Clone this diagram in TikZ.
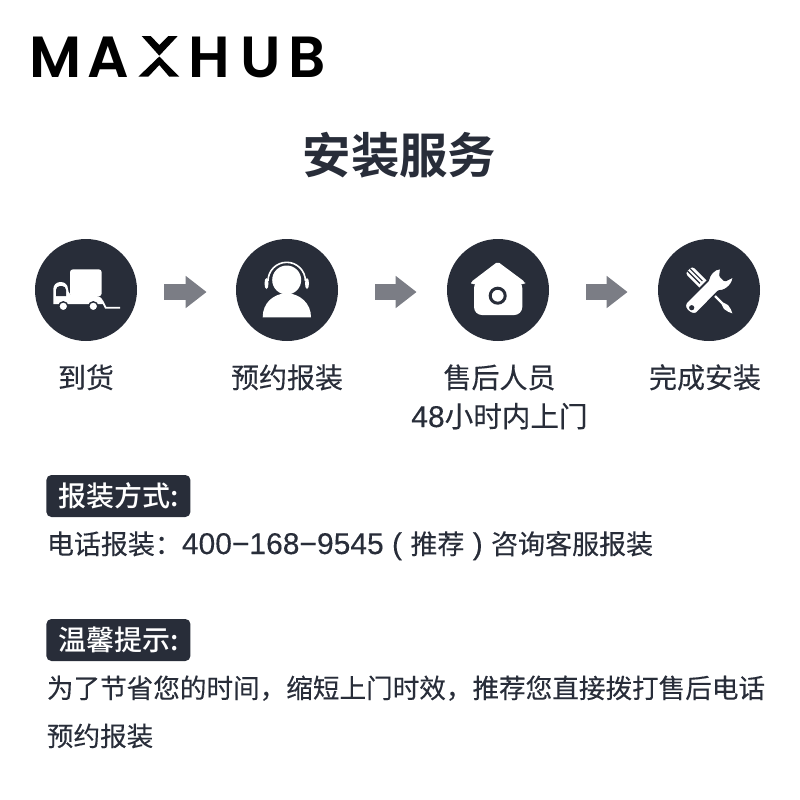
\documentclass[tikz,border=0pt]{standalone}
\usepackage{fontspec}
\setmainfont[FakeBold=0.25]{Noto Sans CJK SC}
\newfontfamily\titlefont{Noto Sans CJK SC Bold}
\newfontfamily\latnfont[FakeBold=0.25]{Liberation Sans}
\newfontfamily\logofont{Poppins SemiBold}
\newfontfamily\tagfont{Noto Sans CJK SC Medium}
\usetikzlibrary{arrows.meta}
\definecolor{inkdark}{HTML}{282D39}
\definecolor{flowgray}{HTML}{7B7D85}
\tikzset{
    iconcircle/.style={circle,fill=inkdark,minimum size=51pt,inner sep=0pt},
    steplabel/.style={anchor=base,text=inkdark,font=\fontsize{14}{14}\selectfont,inner sep=0pt},
    flowarrow/.style={draw=flowgray,line width=8pt,-{Triangle[length=10.5pt,width=15.5pt,fill=flowgray]},shorten <=18.5pt,shorten >=15pt},
    tagbox/.style={anchor=west,fill=inkdark,rounded corners=2.5pt,text=white,minimum width=72pt,minimum height=21pt,inner sep=0pt,font=\fontsize{14}{14}\tagfont},
    bodyline/.style={anchor=base west,text=inkdark,font=\fontsize{13.3}{13.3}\selectfont,inner sep=0pt},
}
\newcommand{\latn}[1]{{\latnfont\fontsize{15}{15}\selectfont #1}}
\newcommand{\logoslot}[2]{\makebox[#1pt][l]{#2}}
\begin{document}
\begin{tikzpicture}[x=0.5pt,y=-0.5pt]
    \useasboundingbox (0,0) rectangle (800,800);

    % logo
    \node[anchor=base west,inner sep=0pt,font=\fontsize{29}{29}\logofont] (logo) at (29,77) {\logoslot{29}{M}\logoslot{30}{A}\logoslot{20.5}{\textcolor{white}{X}}\logoslot{26}{H}\logoslot{24}{U}\logoslot{20}{B}};
    \fill (141.7,36) -- (150.7,36) -- (159.3,45) -- (168.3,36) -- (177.7,36) -- (159.3,55.7) -- cycle;
    \fill (138.3,76.7) -- (148.3,76.7) -- (159.3,65) -- (169.3,76.7) -- (179.3,76.7) -- (159.3,56.5) -- cycle;

    % title
    \node[anchor=base,inner sep=0pt,text=inkdark,font=\fontsize{24.2}{24.2}\titlefont] (title) at (399.5,173) {安装服务};

    % steps
    \node[iconcircle] (truck) at (86,290) {};
    \node[iconcircle] (agent) at (287,290) {};
    \node[iconcircle] (house) at (498,290) {};
    \node[iconcircle] (tools) at (709,290) {};

    \draw[flowarrow,shorten <=13.5pt,shorten >=14.5pt] ([yshift=-1pt]truck.east) -- ([yshift=-1pt]agent.west);
    \draw[flowarrow] ([yshift=-1pt]agent.east) -- ([yshift=-1pt]house.west);
    \draw[flowarrow] ([yshift=-1pt]house.east) -- ([yshift=-1pt]tools.west);

    % truck icon
    \fill[white,rounded corners=1.5pt] (70,269.3) rectangle (101.7,296.3);
    \fill[white,rounded corners=3.5pt] (53.3,304) -- (53.3,282) -- (68,282) -- (68,296) -- (103.3,296) [sharp corners] -- (103.3,304) -- cycle;
    \fill[inkdark,rounded corners=2pt] (56,296) -- (56,286) -- (66,286) [sharp corners] -- (66,296) -- cycle;
    \fill[white,draw=inkdark,line width=0.7pt] (63.3,306.3) circle (4.5);
    \fill[white,draw=inkdark,line width=0.7pt] (93.3,306.3) circle (4.5);
    \draw[white,line width=0.9pt] (102.3,301) -- (105.7,307.7) -- (120,307.7);

    % agent icon
    \fill[white] (286.7,280) circle (14.5);
    \fill[white] (262.7,317.3) .. controls (262.7,303) and (273,294) .. (286.7,293) .. controls (300,294) and (311,303) .. (311,317.3) -- cycle;
    \draw[white,line width=0.8pt] (268,281) arc[start angle=180,end angle=360,radius=18.7];
    \fill[white] (266.5,283.5) ellipse (2 and 5.5);
    \fill[white] (307,283.5) ellipse (2 and 5.5);

    % house icon
    \fill[white,rounded corners=1pt] (497.7,261.7) -- (525,282) -- (525,284) -- (471,284) -- (471,282) -- cycle;
    \fill[white,rounded corners=4pt] (474,280) rectangle (522.3,315);
    \fill[white,draw=inkdark,line width=1.5pt] (497.7,295.7) circle (7.5);

    % tools icon
    \begin{scope}[shift={(709,290)},rotate=-45]
        \fill[white,rounded corners=1.5pt] (-28.6,-5) rectangle (0,5);
        \draw[inkdark,line width=0.6pt] (-28.6,-1.7) -- (-11,-1.7) (-28.6,1.7) -- (-11,1.7);
        \fill[white] (8,-1.2) -- (19,-1.2) -- (24,-2.8) -- (29,-1.8) -- (33,0) -- (29,1.8) -- (24,2.8) -- (19,1.2) -- (8,1.2) -- cycle;
    \end{scope}
    \filldraw[fill=white,draw=inkdark,line width=0.9pt,rounded corners=0.5pt] (708.5,280) .. controls (709,275) and (714,268.5) .. (721,268.3) -- (720,276) -- (725,280.7) -- (733.3,276.5) .. controls (733.5,283) and (727,291) .. (718.5,291) -- (698,312) .. controls (693,317) and (682,309) .. (686.5,302) -- cycle;
    \fill[inkdark] (691.7,307.7) circle (2.6);

    % step labels
    \node[steplabel] (truck text) at (86,388) {到货};
    \node[steplabel] (agent text) at (287,388) {预约报装};
    \node[steplabel] (house text) at (499.5,388) {售后人员};
    \node[steplabel,font=\fontsize{14.3}{14.3}\selectfont] (house hours) at (499.5,427) {{\latnfont\fontsize{15}{15}\selectfont 48}小时内上门};
    \node[steplabel] (tools text) at (705,388) {完成安装};

    % report section
    \node[tagbox] (report tag) at (46,496) {报装方式:};
    \node[bodyline,font=\fontsize{13.5}{13.5}\selectfont] (report line) at (46.5,554) {电话报装：\latn{400−168−9545 ( }推荐\latn{ ) }咨询客服报装};

    % tips section
    \node[tagbox] (tips tag) at (46,640) {温馨提示:};
    \node[bodyline] (tips first) at (46.5,698) {为了节省您的时间，缩短上门时效，推荐您直接拨打售后电话};
    \node[bodyline] (tips second) at (46.5,746) {预约报装};
\end{tikzpicture}
\end{document}
